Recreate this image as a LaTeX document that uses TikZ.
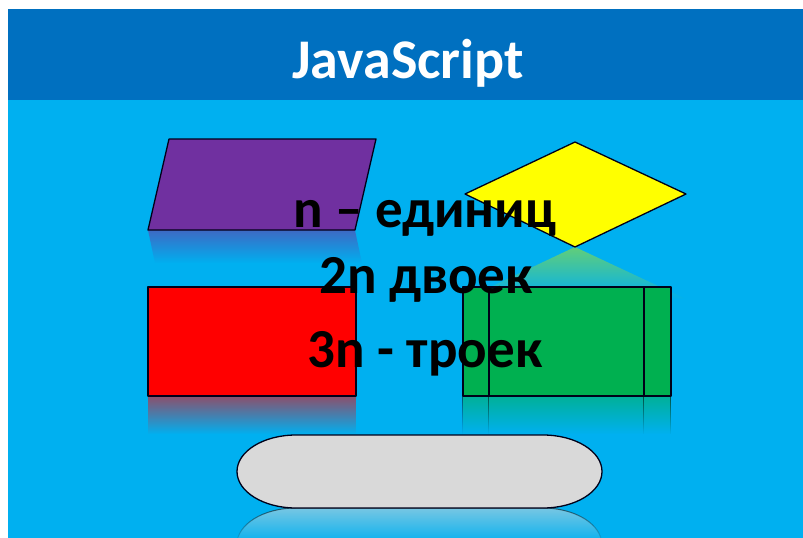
\documentclass[tikz,border=0pt]{standalone}
\usepackage{fontspec}
\setmainfont{Carlito}
\usetikzlibrary{fadings}
\tikzfading[name=reflfade, top color=transparent!45, bottom color=transparent!100]
\definecolor{titleblue}{HTML}{0070C0}
\definecolor{bgblue}{HTML}{00B0F0}
\definecolor{cpurple}{HTML}{7030A0}
\definecolor{cyellow}{HTML}{FFFF00}
\definecolor{cred}{HTML}{FF0000}
\definecolor{cgreen}{HTML}{00B050}
\definecolor{cgrey}{HTML}{D9D9D9}
\tikzset{
  shapebox/.style={draw=black!90!blue, line width=1.3pt, line join=round},
  refl/.style={path fading=reflfade},
  bigtext/.style={font=\fontsize{55}{60}\selectfont\bfseries, text=black, inner sep=0pt, anchor=base},
}
\begin{document}
\begin{tikzpicture}[x=1pt,y=-1pt]
\useasboundingbox (0,0) rectangle (803,538);
\fill[white] (0,0) rectangle (803,538);
\fill[bgblue] (8,9) rectangle (803,538);
\fill[titleblue] (8,9) rectangle (803,100);
\node[font=\fontsize{56}{60}\selectfont\bfseries, text=white, inner sep=0pt, anchor=base] (title) at (408,78) {JavaScript};
% reflections
\begin{scope}
\clip (8,100) rectangle (803,538);
\fill[cpurple, refl] (148,230) -- (355,230) -- (362,263) -- (155,263) -- cycle;
\fill[cyellow!70!cgreen, refl] (575,247) -- (686,299) -- (465,299) -- cycle;
\fill[cred, refl] (148,396) rectangle (356,434);
\fill[cgreen, refl] (463,396) rectangle (671,434);
\draw[black, line width=1pt, refl] (489,396) -- (489,434) (644,396) -- (644,434) (463,396) -- (463,434) (671,396) -- (671,434);
\fill[cgrey, refl] (296,508) -- (543,508) arc[start angle=270, end angle=360, x radius=59, y radius=36.5] -- (237,544.5) arc[start angle=180, end angle=270, x radius=59, y radius=36.5] -- cycle;
\draw[black, line width=1pt, refl] (296,508) -- (543,508) arc[start angle=270, end angle=360, x radius=59, y radius=36.5] (237,544.5) arc[start angle=180, end angle=270, x radius=59, y radius=36.5];
\end{scope}
% shapes
\draw[shapebox, fill=cpurple] (169,139) -- (376,139) -- (355,230) -- (148,230) -- cycle;
\draw[shapebox, fill=cyellow] (575,142) -- (686,194) -- (575,247) -- (465,194) -- cycle;
\draw[shapebox, fill=cred] (148,287) rectangle (356,396);
\draw[shapebox, fill=cgreen] (463,287) rectangle (671,396);
\draw[shapebox] (489,287) -- (489,396) (644,287) -- (644,396);
\draw[shapebox, fill=cgrey] (296,435) -- (543,435) arc[start angle=270, end angle=450, x radius=59, y radius=36.5] -- (296,508) arc[start angle=90, end angle=270, x radius=59, y radius=36.5] -- cycle;
% text
\node[bigtext] (t1) at (425,227) {n – единиц};
\node[bigtext] (t2) at (426,293) {2n двоек};
\node[bigtext] (t3) at (425,367) {3n - троек};
\end{tikzpicture}
\end{document}
